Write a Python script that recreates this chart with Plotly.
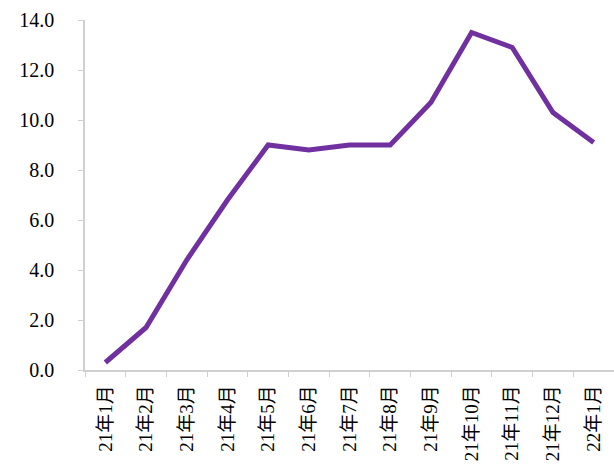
import plotly.graph_objects as go

categories = ["21年1月", "21年2月", "21年3月", "21年4月", "21年5月", "21年6月", "21年7月",
              "21年8月", "21年9月", "21年10月", "21年11月", "21年12月", "22年1月"]
values = [0.3, 1.7, 4.4, 6.8, 9.0, 8.8, 9.0, 9.0, 10.7, 13.5, 12.9, 10.3, 9.1]

fig = go.Figure()
fig.add_trace(go.Scatter(
    x=categories, y=values, mode="lines",
    line=dict(color="#7030A0", width=5),
    showlegend=False,
))

font_family = "Liberation Serif, Noto Sans CJK SC, serif"
fig.update_layout(
    width=614, height=464,
    margin=dict(l=85, r=0, t=20, b=94),
    paper_bgcolor="white", plot_bgcolor="white",
    font=dict(family=font_family, size=19, color="black"),
    xaxis=dict(
        type="category",
        showline=True, linecolor="#d0d0d0", linewidth=1.5,
        ticks="outside", tickson="boundaries", ticklen=5, tickcolor="#d0d0d0",
        tickangle=-90, showgrid=False, zeroline=False,
        tickfont=dict(size=19),
        ticklabelstandoff=6,
        range=[-0.5, 12.5],
    ),
    yaxis=dict(
        range=[0, 14], dtick=2, tickformat=".1f",
        showline=True, linecolor="#d0d0d0", linewidth=1.5,
        ticks="outside", ticklen=5, tickcolor="#d0d0d0",
        showgrid=False, zeroline=False,
        tickfont=dict(size=20),
        ticklabelstandoff=20,
    ),
)

fig.write_html("out.html")
